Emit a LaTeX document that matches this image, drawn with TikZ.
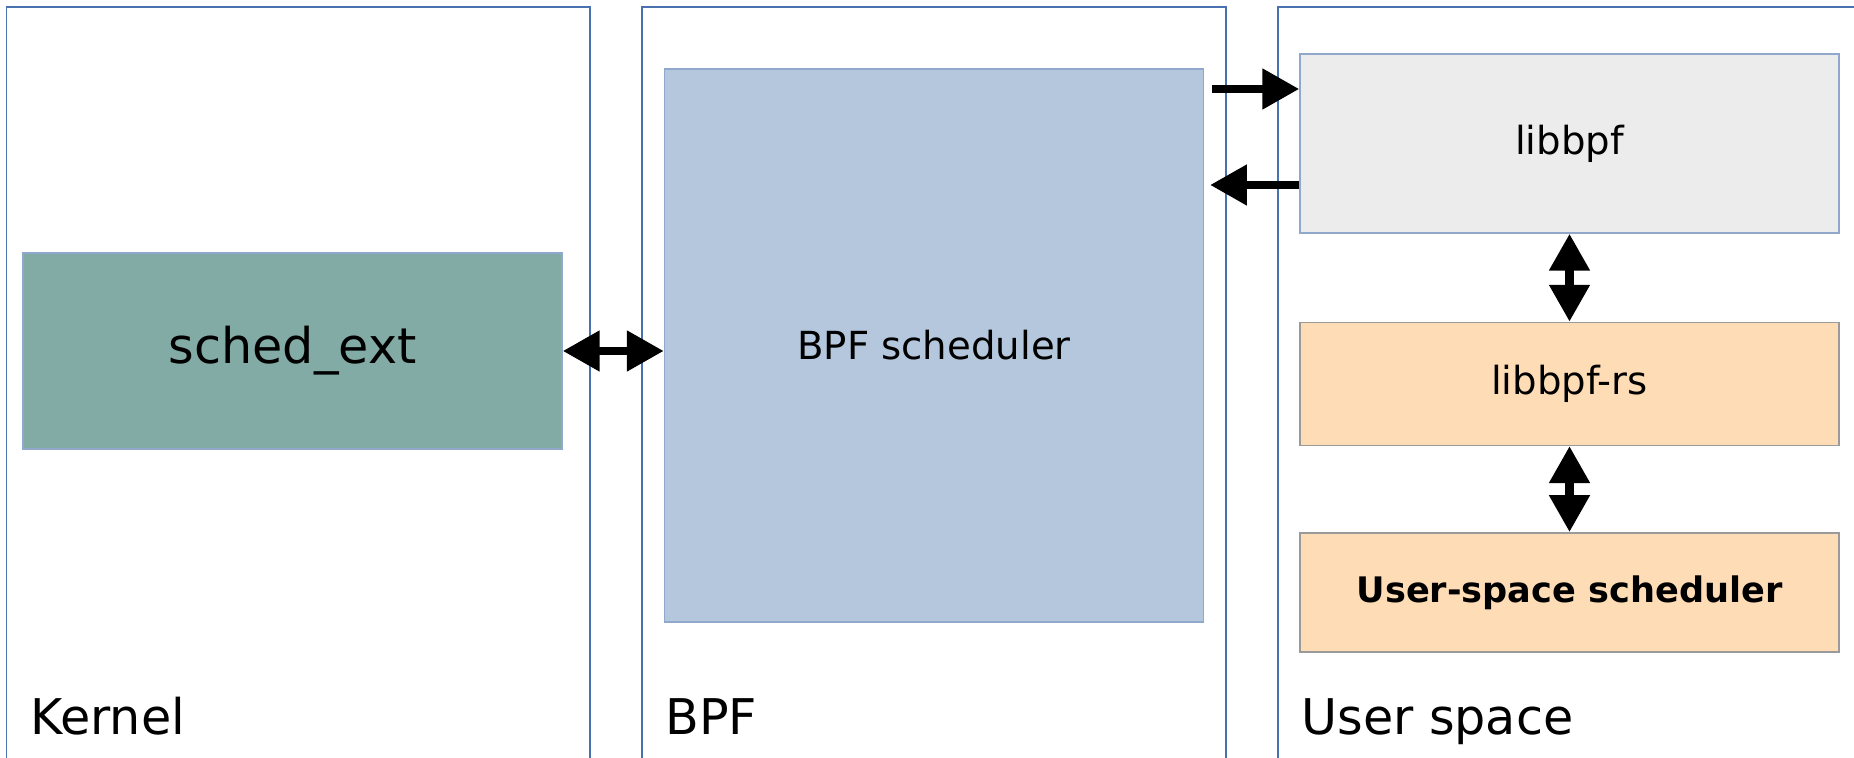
\documentclass[tikz,border=0pt]{standalone}
\usepackage{fontspec}
\setmainfont{DejaVu Sans}
\usetikzlibrary{positioning, arrows.meta}
\definecolor{panelblue}{HTML}{4A72B0}
\definecolor{boxline}{HTML}{8FA8CC}
\definecolor{kernelfill}{HTML}{82ABA5}
\definecolor{bpffill}{HTML}{B4C7DC}
\definecolor{libfill}{HTML}{ECECEC}
\definecolor{userfill}{HTML}{FDDCB6}
\definecolor{userline}{HTML}{9A9A9A}
\tikzstyle{panel} = [
    draw=panelblue,
    line width=0.8pt,
    fill=white
]
\tikzstyle{panellabel} = [
    anchor=base west,
    inner sep=0pt,
    font=\fontsize{28}{32}\selectfont
]
\tikzstyle{block} = [
    rectangle,
    minimum width=10.78cm,
    inner sep=0pt,
    draw=boxline,
    line width=0.8pt,
    font=\fontsize{22}{26}\selectfont
]
\tikzstyle{arrow} = [line width=5pt,->,>={Triangle[length=21pt,width=22pt]}]
\tikzstyle{biarrow} = [line width=5pt,<->,>={Triangle[length=21pt,width=22pt]}]
\begin{document}
\begin{tikzpicture}

\useasboundingbox (0,0) rectangle (37.08,15.16);
\clip (0,0) rectangle (37.08,15.16);

% layers
\draw [panel] (0.13,-1) rectangle (11.8,15.02);
\draw [panel] (12.84,-1) rectangle (24.52,15.02);
\draw [panel] (25.56,-1) rectangle (38,15.02);

\node (kernel) [panellabel] at (0.6,0.46) {Kernel};
\node (bpf) [panellabel] at (13.3,0.46) {BPF};
\node (user) [panellabel] at (26.02,0.46) {User space};

\node (schedext) [block, fill=kernelfill, minimum height=3.92cm,
    font=\fontsize{28}{32}\selectfont] at (5.85,8.14) {sched\_ext};

\node (bpfsched) [block, fill=bpffill, minimum height=11.06cm] at (18.68,8.25)
{BPF scheduler};

\node (libbpf) [block, fill=libfill, minimum height=3.58cm] at (31.39,12.29)
{libbpf};

\node (librs) [block, fill=userfill, draw=userline, minimum height=2.46cm,
    below=1.76cm of libbpf] {libbpf-rs};

\node (usched) [block, fill=userfill, draw=userline, minimum height=2.38cm,
    below=1.72cm of librs, font=\fontsize{20}{24}\selectfont\bfseries]
{User-space scheduler};

\coordinate (outA) at (24.24,13.38);
\coordinate (inA) at (24.2,11.46);

\draw [arrow] (outA) -- (outA -| libbpf.west);
\draw [arrow] (inA -| libbpf.west) -- (inA);
\draw [biarrow] (schedext.east) -- (schedext.east -| bpfsched.west);
\draw [biarrow] (libbpf) -- (librs);
\draw [biarrow] (librs) -- (usched);

\end{tikzpicture}
\end{document}
